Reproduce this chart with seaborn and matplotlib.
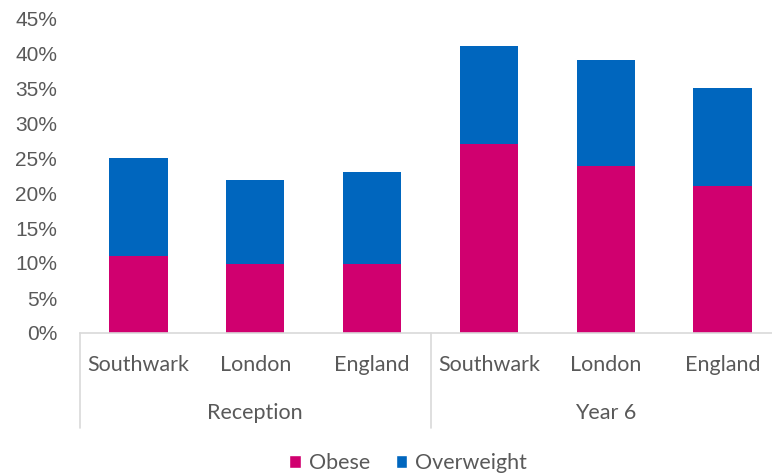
import matplotlib
matplotlib.use("Agg")
import matplotlib.pyplot as plt
from matplotlib.patches import Patch
import seaborn as sns
import pandas as pd

# Child weight data (% of pupils), by school year and area
areas = ["Southwark", "London", "England", "Southwark", "London", "England"]
years = ["Reception", "Reception", "Reception", "Year 6", "Year 6", "Year 6"]
obese = [11.0, 9.8, 9.8, 27.0, 23.8, 21.0]
overweight = [14.0, 12.0, 13.2, 14.0, 15.2, 14.0]
yticks = [0, 5, 10, 15, 20, 25, 30, 35, 40, 45]
groups = ["Reception", "Year 6"]

OBESE_C = "#D0006F"
OVER_C = "#0066BE"
TEXT_C = "#595959"
LINE_C = "#D9D9D9"
CAT_FONT = ["Lato", "Liberation Sans"]

df = pd.DataFrame({
    "slot": [f"{y}|{a}" for y, a in zip(years, areas)],
    "area": areas,
    "year": years,
    "obese": obese,
    "total": [o + w for o, w in zip(obese, overweight)],
})

sns.set_theme(style="white")
plt.rcParams["font.family"] = ["Liberation Sans", "DejaVu Sans"]

fig = plt.figure(figsize=(7.72, 4.73), dpi=100)
ax = fig.add_axes([80 / 772, 140 / 473, 701 / 772, 315 / 473])

# stacked bars: full height in blue, obese part drawn over it
sns.barplot(data=df, x="slot", y="total", color=OVER_C, width=0.5,
            saturation=1, ax=ax, errorbar=None, linewidth=0)
sns.barplot(data=df, x="slot", y="obese", color=OBESE_C, width=0.5,
            saturation=1, ax=ax, errorbar=None, linewidth=0)

ax.set_xlim(-0.5, len(areas) - 0.5)
ax.set_ylim(0, 45)
ax.set_yticks(yticks)
ax.set_yticklabels([f"{v}%" for v in yticks], color=TEXT_C, fontsize=15)
ax.tick_params(axis="y", length=0, pad=16.5)
ax.set_xticks(range(len(areas)))
ax.set_xticklabels(areas, color=TEXT_C, fontsize=15.5, family=CAT_FONT)
ax.tick_params(axis="x", length=0, pad=16)
ax.set_xlabel("")
ax.set_ylabel("")
for s in ["top", "right", "left"]:
    ax.spines[s].set_visible(False)
ax.spines["bottom"].set_color(LINE_C)
ax.spines["bottom"].set_linewidth(1.2)
ax.grid(False)

# group separators and group labels under the category labels
n_per = len(areas) // len(groups)
for b in range(len(groups) + 1):
    x = b * n_per - 0.5
    ax.plot([x, x], [0, -0.302], transform=ax.get_xaxis_transform(),
            color=LINE_C, lw=1.2, clip_on=False)
for i, g in enumerate(groups):
    ax.text(i * n_per + (n_per - 1) / 2, -0.253, g, ha="center", va="center",
            transform=ax.get_xaxis_transform(), color=TEXT_C, fontsize=15.5,
            family=CAT_FONT)

handles = [Patch(facecolor=OBESE_C, label="Obese"),
           Patch(facecolor=OVER_C, label="Overweight")]
fig.legend(handles=handles, loc="center", bbox_to_anchor=(408 / 772, 1 - 463 / 473),
           ncol=2, frameon=False, handlelength=0.55, handleheight=0.55,
           handletextpad=0.35, columnspacing=1.2,
           prop={"family": CAT_FONT, "size": 15.5},
           labelcolor=TEXT_C)

fig.savefig("out.png", dpi=100)
